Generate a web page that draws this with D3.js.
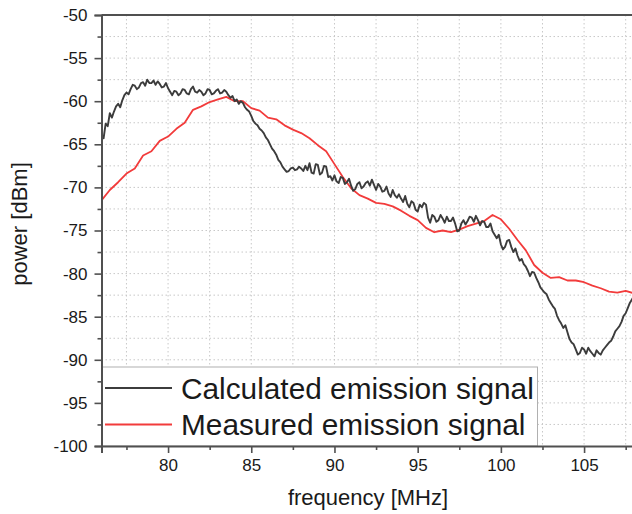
<!DOCTYPE html>
<html>
<head>
<meta charset="utf-8">
<script src="https://cdn.jsdelivr.net/npm/d3@7"></script>
<style>
  html, body { margin: 0; padding: 0; background: #fff; }
  svg { display: block; font-family: "Liberation Sans", Arial, sans-serif; }
</style>
</head>
<body>
<svg id="chart" width="632" height="514"></svg>
<script>
// calculated emission signal, 76..108 MHz every 0.125 MHz
const calcFreqStart = 76
const calcStep = 0.125
const calculated = [
  -63.8, -64.3, -62.6, -62.9, -61.4, -61.9, -61.2, -60.6,
  -60.3, -60.7, -59.9, -59.3, -59.0, -59.2, -58.6, -58.1,
  -58.2, -58.6, -58.4, -57.9, -57.8, -58.2, -57.5, -57.9,
  -57.9, -57.6, -58.1, -57.7, -58.0, -58.4, -58.3, -57.9,
  -58.5, -58.9, -59.3, -58.8, -58.9, -59.3, -59.1, -58.6,
  -58.7, -59.1, -59.2, -58.6, -58.3, -58.9, -59.0, -58.7,
  -58.9, -59.3, -59.1, -58.6, -58.7, -59.2, -59.1, -58.8,
  -58.6, -59.1, -59.0, -58.7, -58.9, -59.3, -59.6, -59.4,
  -60.0, -59.8, -60.3, -60.0, -60.2, -60.7, -61.0, -61.2,
  -61.7, -62.3, -62.6, -62.8, -63.2, -63.4, -63.7, -64.2,
  -64.5, -65.0, -65.5, -65.8, -66.2, -66.8, -67.1, -67.6,
  -67.9, -68.2, -68.1, -67.8, -67.7, -68.0, -67.9, -67.6,
  -67.8, -68.1, -67.5, -68.0, -67.2, -68.3, -68.4, -67.3,
  -67.4, -68.5, -68.3, -67.5, -67.6, -68.8, -68.7, -69.2,
  -68.6, -69.3, -69.5, -68.8, -68.9, -69.6, -69.4, -69.0,
  -69.8, -70.4, -70.2, -69.6, -69.4, -70.1, -69.9, -69.5,
  -69.3, -69.8, -69.1, -69.7, -70.3, -69.6, -69.9, -70.5,
  -70.4, -69.9, -70.7, -71.1, -70.3, -70.9, -71.2, -70.8,
  -71.3, -71.7, -71.0, -71.9, -72.3, -71.6, -71.8, -72.6,
  -72.8, -72.0, -72.3, -71.8, -72.0, -73.5, -74.1, -73.2,
  -73.4, -74.0, -73.8, -73.2, -73.6, -74.1, -73.4, -73.9,
  -73.9, -73.5, -74.2, -75.1, -75.0, -74.2, -73.8, -74.3,
  -73.9, -73.4, -73.5, -74.0, -73.3, -73.8, -74.4, -73.9,
  -74.0, -74.6, -74.6, -74.2, -75.1, -75.5, -75.9, -75.5,
  -76.6, -77.2, -76.9, -76.2, -76.1, -76.9, -77.5, -77.1,
  -77.9, -78.5, -78.3, -78.9, -79.2, -79.7, -80.3, -79.8,
  -79.9, -80.5, -81.0, -81.6, -81.9, -82.2, -82.4, -83.0,
  -83.4, -83.8, -84.1, -84.9, -85.4, -85.8, -86.3, -86.0,
  -86.8, -87.6, -88.0, -88.2, -88.8, -89.4, -89.2, -88.6,
  -88.8, -89.3, -88.6, -89.0, -89.3, -89.6, -88.9, -89.2,
  -89.4, -88.9, -88.6, -88.3, -88.0, -87.8, -87.3, -86.7,
  -86.4, -86.1, -85.6, -84.9, -84.6, -84.0, -83.4, -83.0,
  -82.6
]

// measured emission signal, 76..108 MHz every 0.5 MHz
const measFreqStart = 76
const measStep = 0.5
const measured = [
  -71.5, -70.3, -69.4, -68.4, -67.8, -66.3, -65.8, -64.6,
  -64.1, -63.2, -62.5, -61.0, -60.6, -60.1, -59.8, -59.5,
  -60.0, -60.0, -60.8, -61.1, -61.9, -62.1, -62.8, -63.3,
  -63.7, -64.3, -65.1, -65.8, -67.3, -68.8, -70.1, -70.9,
  -71.3, -71.8, -71.9, -72.2, -72.7, -73.3, -73.8, -74.7,
  -75.2, -75.0, -75.2, -74.9, -74.5, -74.2, -73.9, -73.2,
  -73.7, -74.8, -76.1, -77.3, -79.0, -79.9, -80.5, -80.4,
  -80.8, -80.8, -81.0, -81.4, -81.7, -82.1, -82.2, -82.0,
  -82.3
]

const xTicks = [80, 85, 90, 95, 100, 105]
const yTicks = [-50, -55, -60, -65, -70, -75, -80, -85, -90, -95, -100]
const seriesNames = ["Calculated emission signal", "Measured emission signal"]
const seriesColors = ["#3c3c3c", "#f23b3b"]

const svg = d3.select("#chart")
const plotL = 101.5, plotR = 634, plotT = 15, plotB = 446

const x = d3.scaleLinear().domain([76, 108]).range([plotL, plotR])
const y = d3.scaleLinear().domain([-100, -50]).range([plotB, plotT])

const calcData = calculated.map((v, i) => ({ f: calcFreqStart + i * calcStep, v: v }))
const measData = measured.map((v, i) => ({ f: measFreqStart + i * measStep, v: v }))

svg.append("defs").append("clipPath").attr("id", "plotClip")
  .append("rect")
  .attr("x", plotL).attr("y", plotT)
  .attr("width", plotR - plotL).attr("height", plotB - plotT)

// grid at major + minor steps
const gx = d3.range(77.5, 108.01, 2.5)
const gy = d3.range(-97.5, -50, 2.5)
const grid = svg.append("g").attr("stroke", "#c8c8c8").attr("stroke-width", 1).attr("stroke-dasharray", "1.5,2.5")
grid.selectAll("line.gx").data(gx).join("line")
  .attr("x1", d => x(d)).attr("x2", d => x(d))
  .attr("y1", plotT).attr("y2", plotB)
grid.selectAll("line.gy").data(gy).join("line")
  .attr("x1", plotL).attr("x2", plotR)
  .attr("y1", d => y(d)).attr("y2", d => y(d))

const line = d3.line().x(d => x(d.f)).y(d => y(d.v))

const plot = svg.append("g").attr("clip-path", "url(#plotClip)")
plot.append("path").datum(measData)
  .attr("d", line).attr("fill", "none")
  .attr("stroke", seriesColors[1]).attr("stroke-width", 1.8)
  .attr("stroke-linejoin", "round")
plot.append("path").datum(calcData)
  .attr("d", line).attr("fill", "none")
  .attr("stroke", seriesColors[0]).attr("stroke-width", 1.9)
  .attr("stroke-linejoin", "round")

// legend box
const lg = svg.append("g")
lg.append("rect")
  .attr("x", plotL).attr("y", 367)
  .attr("width", 436).attr("height", plotB - 367)
  .attr("fill", "#fff").attr("stroke", "#b0b0b0").attr("stroke-width", 1)
seriesNames.forEach((name, i) => {
  let ly = 388 + i * 36.5
  lg.append("line")
    .attr("x1", 105).attr("x2", 172)
    .attr("y1", ly).attr("y2", ly)
    .attr("stroke", seriesColors[i]).attr("stroke-width", 1.9)
  lg.append("text")
    .attr("x", 181).attr("y", ly + 10.5)
    .style("font-size", "29.8px").style("fill", "#1a1a1a")
    .text(name)
})

// axes
const axisColor = "#505050"
const fmt = d => String(d)
svg.append("g").attr("transform", `translate(0,${plotB})`)
  .call(d3.axisBottom(x).tickValues(xTicks).tickSize(7).tickPadding(6).tickFormat(fmt))
svg.append("g").attr("transform", `translate(0,${plotB})`)
  .call(d3.axisBottom(x).tickValues(d3.range(77.5, 108, 5)).tickSize(4).tickFormat(""))
  .call(g => g.select(".domain").remove())
svg.append("g").attr("transform", `translate(${plotL},0)`)
  .call(d3.axisLeft(y).tickValues(yTicks).tickSize(7).tickPadding(7).tickFormat(fmt))
svg.append("g").attr("transform", `translate(${plotL},0)`)
  .call(d3.axisLeft(y).tickValues(d3.range(-97.5, -50, 5)).tickSize(4).tickFormat(""))
  .call(g => g.select(".domain").remove())

svg.selectAll(".domain").attr("stroke", axisColor).attr("stroke-width", 2)
svg.selectAll(".tick line").attr("stroke", axisColor).attr("stroke-width", 1.6)
svg.selectAll(".tick text").style("font-size", "17px").style("fill", "#1a1a1a")
  .style("font-family", "'Liberation Sans', Arial, sans-serif")

// top frame line
svg.append("line")
  .attr("x1", plotL).attr("x2", plotR)
  .attr("y1", plotT).attr("y2", plotT)
  .attr("stroke", axisColor).attr("stroke-width", 2)

svg.append("text")
  .attr("x", 368).attr("y", 505)
  .attr("text-anchor", "middle")
  .style("font-size", "22px").style("fill", "#1a1a1a")
  .text("frequency [MHz]")
svg.append("text")
  .attr("transform", "translate(27,224) rotate(-90)")
  .attr("text-anchor", "middle")
  .style("font-size", "22px").style("fill", "#1a1a1a")
  .text("power [dBm]")
</script>
</body>
</html>
